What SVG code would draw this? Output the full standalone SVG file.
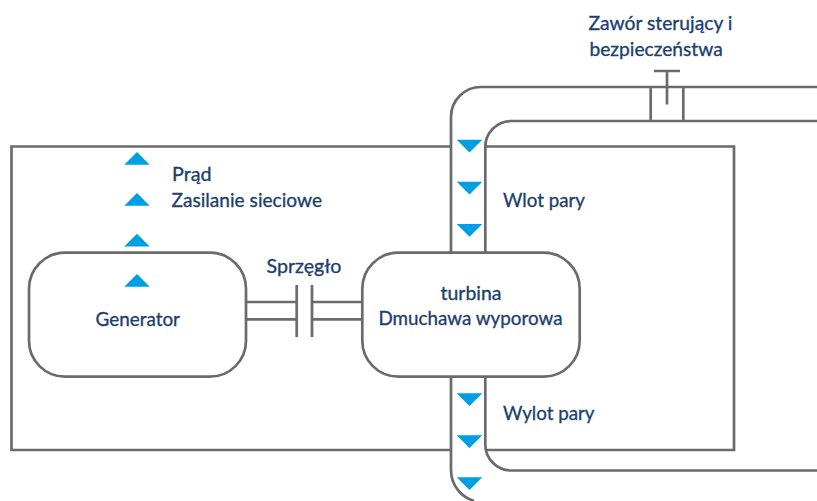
<svg xmlns="http://www.w3.org/2000/svg" width="817" height="501" viewBox="0 0 817 501">
<defs>
<style>
.l{fill:none;stroke:#6b6b6b;stroke-width:2.7}
.n{fill:#fff;stroke:#6b6b6b;stroke-width:2.7}
.t{font-family:"Lato","Liberation Sans",sans-serif;font-size:20px;fill:#1d3f6e;stroke:#1d3f6e;stroke-width:.35}
.a{fill:#009fe3}
</style>
<polygon id="dn" class="a" points="456.7,139.7 482.3,139.7 469.5,152.5"/>
<polygon id="up" class="a" points="124.3,164.8 149.7,164.8 137,152"/>
</defs>
<rect width="817" height="501" fill="#fff"/>
<g id="connectors">
<path class="l" d="M451,146.5H11.5V450H451"/>
<path class="l" d="M485.3,146.5H734V450H485.3"/>
<path class="l" d="M817,87H481A30,30 0 0 0 451,117V470C451,485 461,497 474,501"/>
<path class="l" d="M817,121H511A26,26 0 0 0 485.3,147V444.500A26,26 0 0 0 511,470.500H817"/>
<path class="l" d="M246,302H296.700M246,319.300H296.700M312,302H362M312,319.300H362"/>
<path class="l" d="M296.700,285V337M312,285V337"/>
<path class="l" d="M650.700,87V121M683.300,87V121"/>
<path class="l" d="M654,71H680M667,71V104.500"/>
</g>
<g id="generator">
<rect class="n" x="29" y="252.700" width="217" height="124" rx="36" ry="36"/>
<text class="t" x="95.500" y="325.700" textLength="84.500" lengthAdjust="spacingAndGlyphs">Generator</text>
</g>
<g id="turbine">
<rect class="n" x="362.300" y="252.700" width="217.400" height="124" rx="36" ry="36"/>
<text class="t" x="440.500" y="300" textLength="61" lengthAdjust="spacingAndGlyphs">turbina</text>
<text class="t" x="378.500" y="325" textLength="184" lengthAdjust="spacingAndGlyphs">Dmuchawa wyporowa</text>
</g>
<g id="arrows">
<use href="#dn"/>
<use href="#dn" y="42"/>
<use href="#dn" y="84.300"/>
<use href="#dn" y="253.600"/>
<use href="#dn" y="295.600"/>
<use href="#dn" y="337.600"/>
<use href="#up"/>
<use href="#up" y="41"/>
<use href="#up" y="81.700"/>
<use href="#up" y="122"/>
</g>
<g id="labels">
<text class="t" x="588.500" y="30" textLength="144" lengthAdjust="spacingAndGlyphs">Zawór sterujący i</text>
<text class="t" x="589.500" y="56" textLength="133.200" lengthAdjust="spacingAndGlyphs">bezpieczeństwa</text>
<text class="t" x="503" y="206.700" textLength="82" lengthAdjust="spacingAndGlyphs">Wlot pary</text>
<text class="t" x="503" y="420" textLength="91.500" lengthAdjust="spacingAndGlyphs">Wylot pary</text>
<text class="t" x="266.500" y="272.700" textLength="75" lengthAdjust="spacingAndGlyphs">Sprzęgło</text>
<text class="t" x="172" y="180.700" textLength="39.500" lengthAdjust="spacingAndGlyphs">Prąd</text>
<text class="t" x="171.500" y="207" textLength="150.500" lengthAdjust="spacingAndGlyphs">Zasilanie sieciowe</text>
</g>
</svg>
